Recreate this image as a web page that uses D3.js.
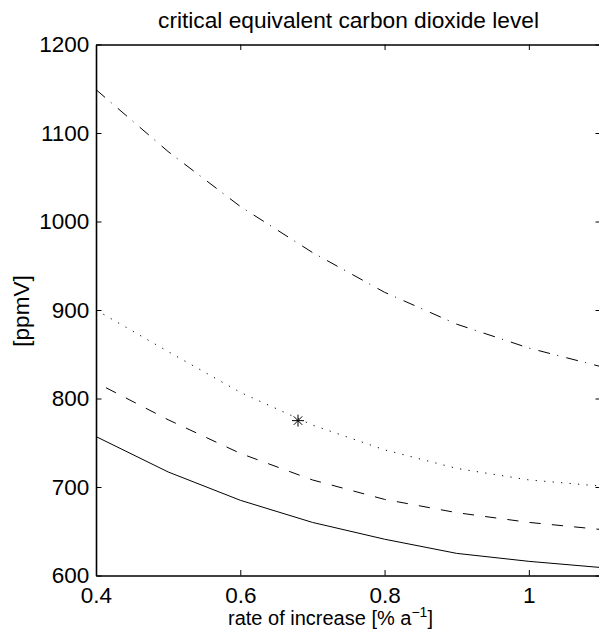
<!DOCTYPE html>
<html>
<head>
<meta charset="utf-8">
<script src="https://cdn.jsdelivr.net/npm/d3@7"></script>
<style>
  html, body { margin: 0; padding: 0; background: #fff; }
  svg { display: block; }
  text { font-family: "Liberation Sans", Arial, Helvetica, sans-serif; fill: #000; }
</style>
</head>
<body>
<svg id="chart" width="599" height="636"></svg>
<script>
// ---- data ----
const rates = [0.4, 0.5, 0.6, 0.7, 0.8, 0.9, 1.0, 1.1];
const solidLevels   = [757, 717, 685, 660, 641, 625, 616, 609];
const dashedLevels  = [818, 776, 738, 708, 686, 671, 660, 652];
const dottedLevels  = [900, 853, 807, 770, 742, 721, 708, 701];
const dashDotLevels = [1149, 1079, 1017, 965, 920, 884, 857, 836];
const markerRates  = [0.68];
const markerLevels = [775];
const xTickValues = [0.4, 0.6, 0.8, 1.0];
const xTickLabels = ["0.4", "0.6", "0.8", "1"];
const yTickValues = [600, 700, 800, 900, 1000, 1100, 1200];
const yTickLabels = ["600", "700", "800", "900", "1000", "1100", "1200"];
const titleText = "critical equivalent carbon dioxide level";
const yLabelText = "[ppmV]";

// ---- layout ----
const svg = d3.select("#chart");
const plotLeft = 96, plotRight = 601, plotTop = 44.5, plotBottom = 575.5;

const x = d3.scaleLinear().domain([0.4, 1.1]).range([plotLeft, plotRight]);
const y = d3.scaleLinear().domain([600, 1200]).range([plotBottom, plotTop]);

svg.append("defs").append("clipPath").attr("id", "plotclip")
  .append("rect").attr("x", plotLeft).attr("y", plotTop)
  .attr("width", plotRight - plotLeft).attr("height", plotBottom - plotTop);

// ---- axes ----
const tickLen = 5.5;
const fontSize = 22.5;

const gx = svg.append("g").attr("transform", `translate(0,${plotBottom})`)
  .call(d3.axisBottom(x).tickValues(xTickValues)
    .tickFormat((d, i) => xTickLabels[i])
    .tickSizeInner(-tickLen).tickSizeOuter(0).tickPadding(11.5));
const gxt = svg.append("g").attr("transform", `translate(0,${plotTop})`)
  .call(d3.axisTop(x).tickValues(xTickValues).tickFormat("")
    .tickSizeInner(-tickLen).tickSizeOuter(0));
const gy = svg.append("g").attr("transform", `translate(${plotLeft},0)`)
  .call(d3.axisLeft(y).tickValues(yTickValues)
    .tickFormat((d, i) => yTickLabels[i])
    .tickSizeInner(-tickLen).tickSizeOuter(0).tickPadding(6.7));
const gyr = svg.append("g").attr("transform", `translate(${plotRight},0)`)
  .call(d3.axisRight(y).tickValues(yTickValues).tickFormat("")
    .tickSizeInner(-tickLen).tickSizeOuter(0));

[gx, gxt, gy, gyr].forEach(g => {
  g.select(".domain").attr("stroke", "#000").attr("stroke-width", 1.6);
  g.selectAll(".tick line").attr("stroke", "#000").attr("stroke-width", 1);
  g.selectAll(".tick text")
    .style("font-family", '"Liberation Sans", Arial, Helvetica, sans-serif')
    .style("font-size", fontSize + "px").attr("fill", "#000");
});

// ---- lines ----
const plot = svg.append("g").attr("clip-path", "url(#plotclip)");
const lineGen = d3.line().x(d => x(d[0])).y(d => y(d[1]));

const series = [
  { levels: solidLevels,   dash: null,              offset: 0 },
  { levels: dashedLevels,  dash: "11.2,11.2",       offset: 11.2 },
  { levels: dottedLevels,  dash: "1.2,7.3",         offset: 0 },
  { levels: dashDotLevels, dash: "12,7.5,1,8.3",    offset: 0 }
];
series.forEach(s => {
  const p = plot.append("path")
    .datum(rates.map((r, i) => [r, s.levels[i]]))
    .attr("d", lineGen)
    .attr("fill", "none")
    .attr("stroke", "#000")
    .attr("stroke-width", 1);
  if (s.dash) p.attr("stroke-dasharray", s.dash).attr("stroke-dashoffset", s.offset);
});

// ---- asterisk marker ----
function asteriskPath(cx, cy, r) {
  let d = "";
  [0, 45, 90, 135].forEach(a => {
    const t = a * Math.PI / 180;
    const dx = r * Math.cos(t), dy = r * Math.sin(t);
    d += `M${cx - dx},${cy - dy}L${cx + dx},${cy + dy}`;
  });
  return d;
}
plot.selectAll("path.marker")
  .data(markerRates.map((r, i) => [r, markerLevels[i]]))
  .enter().append("path").attr("class", "marker")
  .attr("d", d => asteriskPath(x(d[0]), y(d[1]), 6))
  .attr("fill", "none").attr("stroke", "#000").attr("stroke-width", 1);

// ---- titles ----
svg.append("text")
  .attr("x", (plotLeft + plotRight) / 2).attr("y", 28)
  .attr("text-anchor", "middle")
  .style("font-size", "22.7px")
  .text(titleText);

svg.append("text")
  .attr("transform", "translate(28.6,311) rotate(-90)")
  .attr("text-anchor", "middle")
  .style("font-size", fontSize + "px")
  .text(yLabelText);

const xl = svg.append("text")
  .attr("x", 228).attr("y", 625)
  .attr("text-anchor", "start")
  .style("font-size", "20px");
xl.append("tspan").text("rate of increase [% a");
xl.append("tspan").attr("dy", -8).style("font-size", "14px").text("\u22121");
xl.append("tspan").attr("dy", 8).text("]");
</script>
</body>
</html>
